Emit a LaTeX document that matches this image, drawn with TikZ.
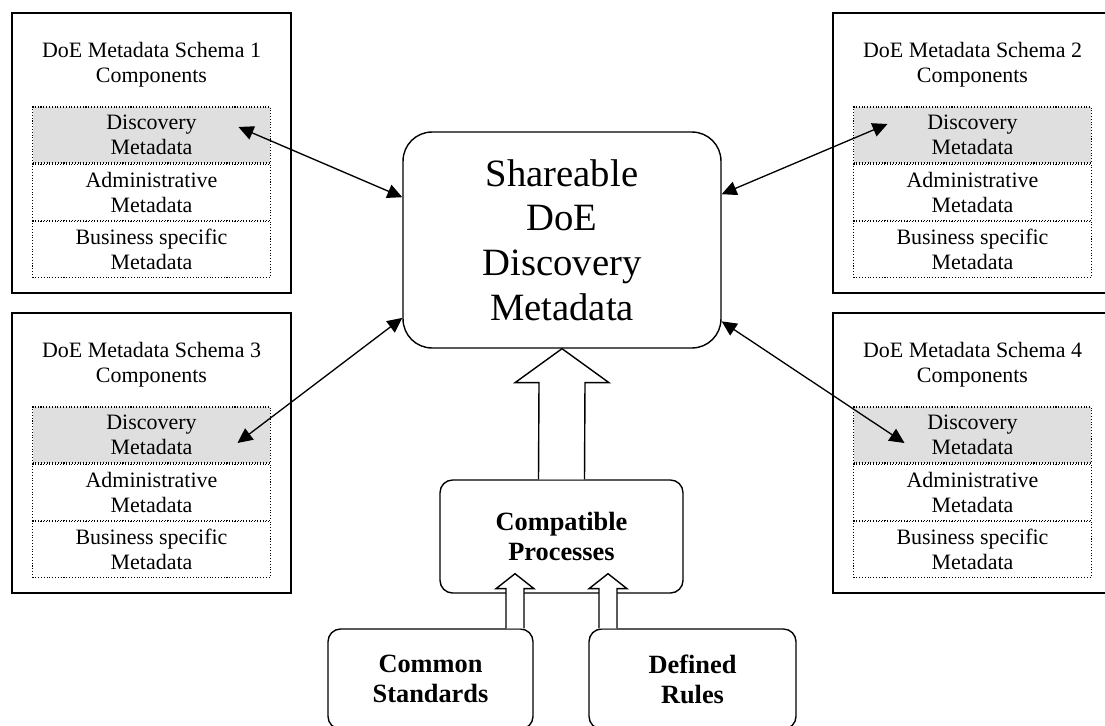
\documentclass[tikz,border=0pt]{standalone}
\usepackage{fontspec}
\setmainfont{Liberation Serif}
\usetikzlibrary{arrows.meta, positioning, calc}

\begin{document}
\begin{tikzpicture}[
        x=0.02cm, y=0.02cm,
        node distance=0pt,
        schema/.style={rectangle, draw, line width=0.8pt, minimum width=5.58cm, minimum height=5.6cm},
        heading/.style={align=center, font=\fontsize{12.5}{14.2}\selectfont},
        part/.style={rectangle, draw, densely dotted, line width=0.6pt, minimum width=4.76cm, minimum height=1.12cm, inner sep=0pt, align=center, font=\fontsize{12.5}{14.2}\selectfont},
        disc/.style={part, fill=gray!25},
        hub/.style={rectangle, rounded corners=0.58cm, draw, line width=0.8pt, minimum width=6.36cm, minimum height=4.32cm, align=center, font=\fontsize{22}{25.5}\selectfont},
        proc/.style={rectangle, rounded corners=0.25cm, draw, line width=0.8pt, align=center, font=\fontsize{15}{17}\selectfont\bfseries},
        link/.style={{Triangle[length=8.5pt,width=8pt]}-{Triangle[length=8.5pt,width=8pt]}, line width=0.75pt},
        fat/.style={draw, fill=white, line width=0.8pt, line join=miter}
    ]
    \useasboundingbox (0,0) rectangle (1105,725);

    % Schema boxes
    \node[schema] (s1) at (151.5,572) {};
    \node[schema] (s2) at (972.5,572) {};
    \node[schema] (s3) at (151.5,272) {};
    \node[schema] (s4) at (972.5,272) {};

    \node[heading] (h1) at ([yshift=-1.05cm]s1.north) {DoE Metadata Schema 1\\Components};
    \node[heading] (h2) at ([yshift=-1.05cm]s2.north) {DoE Metadata Schema 2\\Components};
    \node[heading] (h3) at ([yshift=-1.05cm]s3.north) {DoE Metadata Schema 3\\Components};
    \node[heading] (h4) at ([yshift=-1.05cm]s4.north) {DoE Metadata Schema 4\\Components};

    % Components inside each schema
    \node[disc] (d1) at ([yshift=0.36cm]s1.center) {Discovery\\Metadata};
    \node[part, below=of d1] (a1) {Administrative\\Metadata};
    \node[part, below=of a1] (b1) {Business specific\\Metadata};

    \node[disc] (d2) at ([yshift=0.36cm]s2.center) {Discovery\\Metadata};
    \node[part, below=of d2] (a2) {Administrative\\Metadata};
    \node[part, below=of a2] (b2) {Business specific\\Metadata};

    \node[disc] (d3) at ([yshift=0.36cm]s3.center) {Discovery\\Metadata};
    \node[part, below=of d3] (a3) {Administrative\\Metadata};
    \node[part, below=of a3] (b3) {Business specific\\Metadata};

    \node[disc] (d4) at ([yshift=0.36cm]s4.center) {Discovery\\Metadata};
    \node[part, below=of d4] (a4) {Administrative\\Metadata};
    \node[part, below=of a4] (b4) {Business specific\\Metadata};

    % Shared metadata and what feeds it
    \node[hub] (hub) at (562,485) {Shareable\\DoE\\Discovery\\Metadata};
    \node[proc, minimum width=4.86cm, minimum height=2.26cm] (comp) at (561.5,188.5) {Compatible\\Processes};
    \node[proc, minimum width=4.1cm, minimum height=2cm] (std) at (430.5,46) {Common\\Standards};
    \node[proc, minimum width=4.14cm, minimum height=2cm] (rules) at (692.5,46) {Defined\\Rules};

    % Links
    \draw[link] ([shift={(87,8)}]d1.center) -- (hub.165);
    \draw[link] ([shift={(-85,11)}]d2.center) -- (hub.16);
    \draw[link] ([shift={(86,-8)}]d3.center) -- (hub.206);
    \draw[link] ([shift={(-68,-8)}]d4.center) -- (hub.333);

    % Block arrows
    \draw[fat] ($(comp.north)+(-23,0)$) -- ($(hub.south)+(-23,-34)$) -- ($(hub.south)+(-47,-34)$) -- (hub.south)
        -- ($(hub.south)+(47,-34)$) -- ($(hub.south)+(23,-34)$) -- ($(comp.north)+(23,0)$);

    \coordinate (p1) at ($(std.north)+(84.5,0)$);
    \coordinate (q1) at (p1 |- comp.south);
    \draw[fat] ($(p1)+(-9,0)$) -- ($(q1)+(-9,5)$) -- ($(q1)+(-19,5)$) -- ($(q1)+(0,20)$)
        -- ($(q1)+(19,5)$) -- ($(q1)+(9,5)$) -- ($(p1)+(9,0)$);

    \coordinate (p2) at ($(rules.north)+(-84.5,0)$);
    \coordinate (q2) at (p2 |- comp.south);
    \draw[fat] ($(p2)+(-9,0)$) -- ($(q2)+(-9,5)$) -- ($(q2)+(-19,5)$) -- ($(q2)+(0,20)$)
        -- ($(q2)+(19,5)$) -- ($(q2)+(9,5)$) -- ($(p2)+(9,0)$);

\end{tikzpicture}
\end{document}
